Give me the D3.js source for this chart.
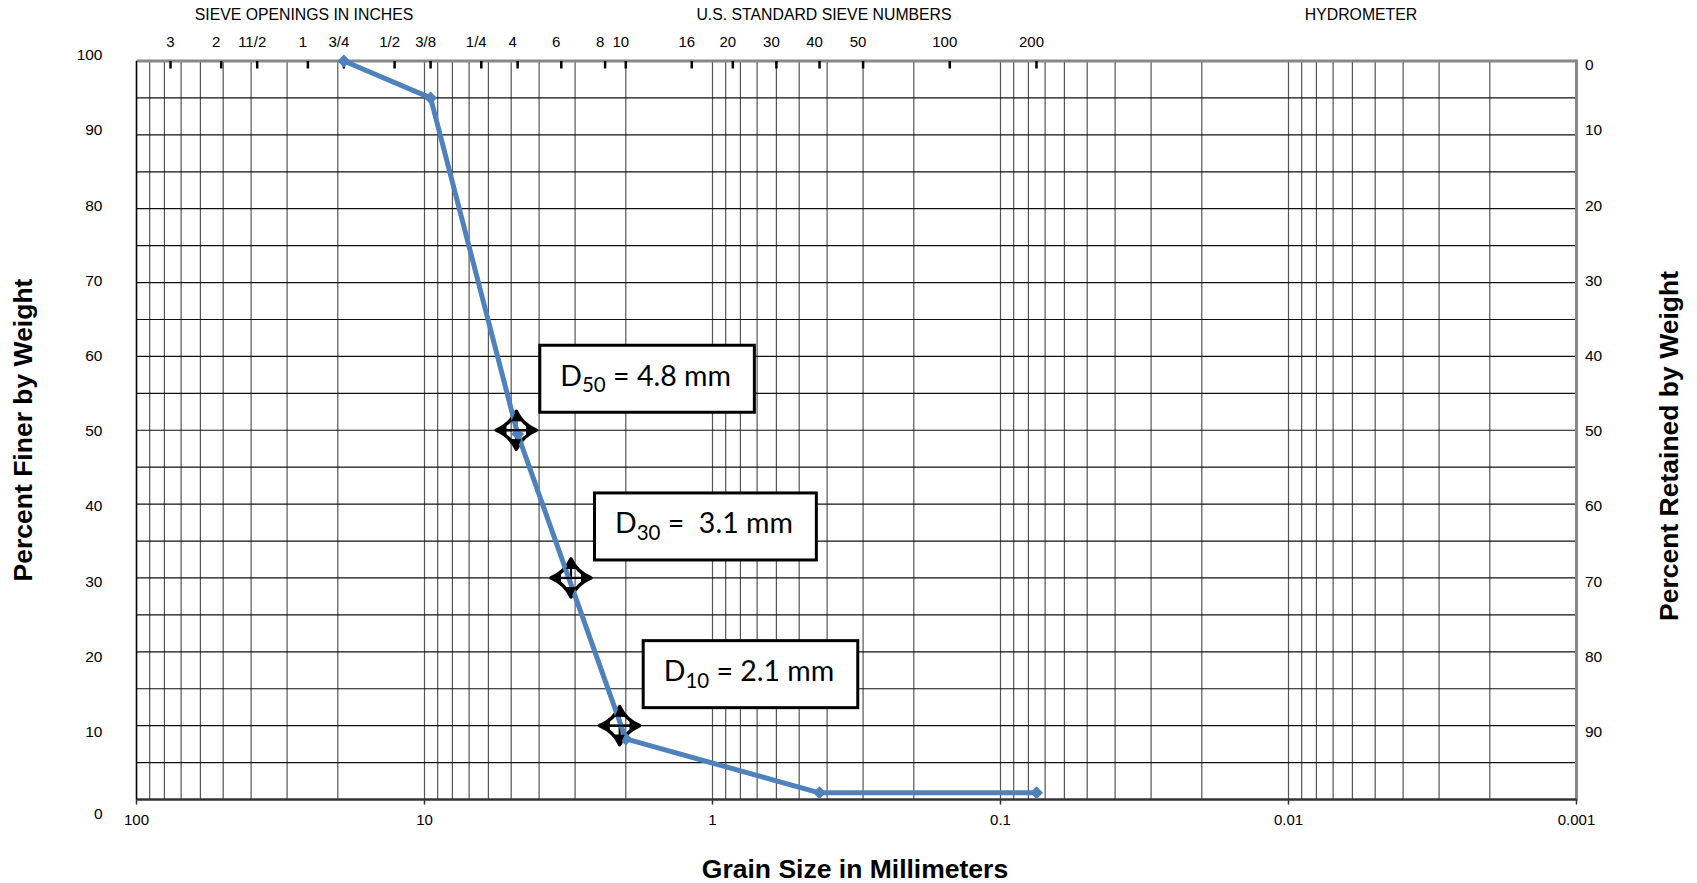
<!DOCTYPE html>
<html><head><meta charset="utf-8">
<script src="https://cdn.jsdelivr.net/npm/d3@7"></script>
<style>
body{margin:0;background:#fff}
svg{display:block}
text{font-family:"Liberation Sans",Arial,sans-serif;fill:#000}
</style>
</head><body>
<svg id="chart" width="1697" height="883"></svg>
<script>
// ---------- data ----------
const grainSizeMm   = [19.05, 9.525, 4.75, 2.0, 0.425, 0.075];
const percentFiner  = [100, 95, 49.5, 8.2, 0.9, 0.9];

const dSubscripts   = ["50", "30", "10"];
const dValuesMm     = [4.8, 3.1, 2.1];
const dPercents     = [50, 30, 10];
const dTexts        = [" = 4.8 mm", " =  3.1 mm", " = 2.1 mm"];

const inchLabels    = ["3", "2", "11/2", "1", "3/4", "1/2", "3/8", "1/4"];
const inchMm        = [76.2, 50.8, 38.1, 25.4, 19.05, 12.7, 9.525, 6.35];
const sieveLabels   = ["4", "6", "8", "10", "16", "20", "30", "40", "50", "100", "200"];
const sieveMm       = [4.75, 3.35, 2.36, 2.0, 1.18, 0.85, 0.6, 0.425, 0.3, 0.15, 0.075];

const xTickValues   = [100, 10, 1, 0.1, 0.01, 0.001];
const xTickLabels   = ["100", "10", "1", "0.1", "0.01", "0.001"];
const leftTicks     = [0, 10, 20, 30, 40, 50, 60, 70, 80, 90, 100];
const rightTicks    = [0, 10, 20, 30, 40, 50, 60, 70, 80, 90];

const headerTexts   = ["SIEVE OPENINGS IN INCHES", "U.S. STANDARD SIEVE NUMBERS", "HYDROMETER"];

// ---------- layout ----------
const svg = d3.select("#chart");
const L = 136.5, R = 1576.5, T = 61, B = 799.5;

const x = d3.scaleLog().domain([100, 0.001]).range([L, R]);
const y = d3.scaleLinear().domain([0, 100]).range([B, T]);
// label placement in the template is slightly offset from the grid
const yLab = d3.scaleLinear().domain([10, 90]).range([731.6, 130]);
const labY = v => v === 0 ? 813.5 : yLab(v);          // finer-% label centre
const retY = r => r === 0 ? 65 : yLab(100 - r);       // retained-% label centre

// ---------- grid ----------
const grid = svg.append("g");
grid.selectAll("line.v").data(x.ticks()).join("line")
  .attr("x1", d => x(d)).attr("x2", d => x(d))
  .attr("y1", T).attr("y2", B)
  .attr("stroke", "#555").attr("stroke-width", 1.2);
grid.selectAll("line.h").data(y.ticks(20)).join("line")
  .attr("x1", L).attr("x2", R)
  .attr("y1", d => y(d)).attr("y2", d => y(d))
  .attr("stroke", "#111").attr("stroke-width", 1.2);

// borders
svg.append("line").attr("x1", L).attr("x2", R).attr("y1", T).attr("y2", T)
  .attr("stroke", "#888").attr("stroke-width", 3);
svg.append("line").attr("x1", R).attr("x2", R).attr("y1", T - 1.5).attr("y2", B + 1)
  .attr("stroke", "#888").attr("stroke-width", 3);
svg.append("line").attr("x1", L).attr("x2", R).attr("y1", B).attr("y2", B)
  .attr("stroke", "#333").attr("stroke-width", 2.5);
svg.append("line").attr("x1", L).attr("x2", L).attr("y1", T).attr("y2", B)
  .attr("stroke", "#000").attr("stroke-width", 1.5);

// bottom decade ticks
svg.append("g").selectAll("line").data(xTickValues).join("line")
  .attr("x1", d => x(d)).attr("x2", d => x(d))
  .attr("y1", B).attr("y2", B + 5)
  .attr("stroke", "#333").attr("stroke-width", 1.5);

// top sieve ticks
const topMm = inchMm.concat(sieveMm);
const topLabels = inchLabels.concat(sieveLabels);
svg.append("g").selectAll("line").data(topMm).join("line")
  .attr("x1", d => x(d)).attr("x2", d => x(d))
  .attr("y1", T).attr("y2", T + 7.5)
  .attr("stroke", "#000").attr("stroke-width", 2.5);
svg.append("g").selectAll("text").data(topLabels).join("text")
  .attr("x", (d, i) => x(topMm[i]) - (i === 0 ? 0 : 5))
  .attr("y", 46.5)
  .attr("text-anchor", "middle")
  .attr("font-size", 15)
  .text(d => d);

// headers
const headerX = [304, 824, 1361];
svg.append("g").selectAll("text").data(headerTexts).join("text")
  .attr("x", (d, i) => headerX[i]).attr("y", 19.5)
  .attr("text-anchor", "middle").attr("font-size", 15.8)
  .text(d => d);

// bottom labels
svg.append("g").selectAll("text").data(xTickValues).join("text")
  .attr("x", d => x(d)).attr("y", 824.8)
  .attr("text-anchor", "middle").attr("font-size", 15)
  .text((d, i) => xTickLabels[i]);

// left labels
svg.append("g").selectAll("text").data(leftTicks).join("text")
  .attr("x", 102.5).attr("y", d => labY(d) + 5.4)
  .attr("text-anchor", "end").attr("font-size", 15.5)
  .text(d => d);

// right labels
svg.append("g").selectAll("text").data(rightTicks).join("text")
  .attr("x", 1585).attr("y", d => retY(d) + 5.4)
  .attr("text-anchor", "start").attr("font-size", 15.5)
  .text(d => d);

// axis titles
svg.append("text").attr("transform", "translate(32,430) rotate(-90)")
  .attr("text-anchor", "middle").attr("font-size", 26.5).attr("font-weight", "bold")
  .text("Percent Finer by Weight");
svg.append("text").attr("transform", "translate(1678,446) rotate(-90)")
  .attr("text-anchor", "middle").attr("font-size", 26.5).attr("font-weight", "bold")
  .text("Percent Retained by Weight");
svg.append("text").attr("x", 855).attr("y", 877.5)
  .attr("text-anchor", "middle").attr("font-size", 26.5).attr("font-weight", "bold")
  .text("Grain Size in Millimeters");

// ---------- D-value markers (under the line) ----------
const outline = "M-20,0 Q-6,-6 0,-19 Q6,-6 20,0 Q6,6 0,19 Q-6,6 -20,0Z";
const tips = "M-21,0 L-10,-5 L-10,5Z M21,0 L10,-5 L10,5Z M0,-20 L-5,-9 L5,-9Z M0,20 L-5,9 L5,9Z";
const markerG = svg.append("g");
dValuesMm.forEach((dv, i) => {
  const m = markerG.append("g").attr("transform", `translate(${x(dv)},${y(dPercents[i])})`);
  m.append("path").attr("d", outline).attr("fill", "none")
    .attr("stroke", "#000").attr("stroke-width", 3.5).attr("stroke-linejoin", "round");
  m.append("path").attr("d", tips).attr("fill", "#000");
  m.append("line").attr("x1", -12).attr("x2", 12).attr("y1", 0).attr("y2", 0)
    .attr("stroke", "#000").attr("stroke-width", 2.2);
  m.append("line").attr("x1", 0).attr("x2", 0).attr("y1", -12).attr("y2", 12)
    .attr("stroke", "#000").attr("stroke-width", 2.2);
});

// ---------- data line ----------
const pts = grainSizeMm.map((d, i) => [d, percentFiner[i]]);
const lineGen = d3.line().x(d => x(d[0])).y(d => y(d[1]));
svg.append("path").datum(pts).attr("d", lineGen)
  .attr("fill", "none").attr("stroke", "#4F81BD").attr("stroke-width", 5)
  .attr("stroke-linejoin", "round");
svg.append("g").selectAll("path").data(pts).join("path")
  .attr("transform", d => `translate(${x(d[0])},${y(d[1])})`)
  .attr("d", "M0,-6.5L6.5,0L0,6.5L-6.5,0Z")
  .attr("fill", "#4F81BD");

// marker cross & tips drawn again on top so the black stays visible
dValuesMm.forEach((dv, i) => {
  const m = svg.append("g").attr("transform", `translate(${x(dv)},${y(dPercents[i])})`);
  m.append("path").attr("d", tips).attr("fill", "#000");
  m.append("line").attr("x1", -12).attr("x2", 12).attr("y1", 0).attr("y2", 0)
    .attr("stroke", "#000").attr("stroke-width", 2);
});

// ---------- annotation boxes ----------
dValuesMm.forEach((dv, i) => {
  const cx = x(dv), cy = y(dPercents[i]);
  const bx = cx + 23.5, by = cy - 85, bh = 67;
  const g = svg.append("g");
  const rect = g.append("rect").attr("x", bx).attr("y", by).attr("height", bh)
    .attr("fill", "#fff").attr("stroke", "#000").attr("stroke-width", 3);
  const t = g.append("text").attr("x", bx + 20.5).attr("y", by + 40.5)
    .style("font-family", "Lato, 'Open Sans', sans-serif")
    .style("white-space", "pre")
    .attr("font-size", 28.5);
  t.append("tspan").text("D");
  t.append("tspan").attr("font-size", 20.5).attr("dy", 6.5).text(dSubscripts[i]);
  t.append("tspan").attr("dy", -6.5).text(dTexts[i]);
  const w = t.node().getComputedTextLength();
  rect.attr("width", w + 44);
});
</script>
</body></html>
